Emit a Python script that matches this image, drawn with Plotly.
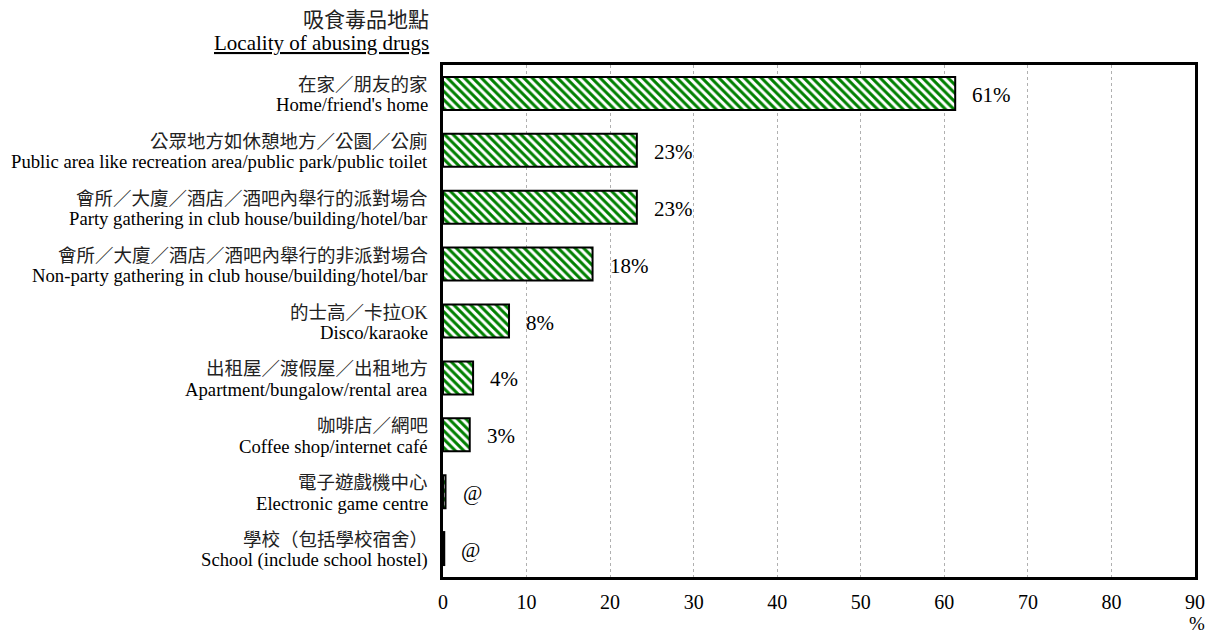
import plotly.graph_objects as go

cats_zh = ["在家／朋友的家", "公眾地方如休憩地方／公園／公廁", "會所／大廈／酒店／酒吧內舉行的派對場合",
           "會所／大廈／酒店／酒吧內舉行的非派對場合", "的士高／卡拉OK", "出租屋／渡假屋／出租地方",
           "咖啡店／網吧", "電子遊戲機中心", "學校（包括學校宿舍）"]
cats_en = ["Home/friend's home", "Public area like recreation area/public park/public toilet",
           "Party gathering in club house/building/hotel/bar",
           "Non-party gathering in club house/building/hotel/bar", "Disco/karaoke",
           "Apartment/bungalow/rental area", "Coffee shop/internet café", "Electronic game centre",
           "School (include school hostel)"]
values = [61.3, 23.2, 23.2, 17.9, 7.9, 3.6, 3.2, 0.3, 0.15]
labels = ["61%", "23%", "23%", "18%", "8%", "4%", "3%", "@", "@"]
xticks = [0, 10, 20, 30, 40, 50, 60, 70, 80, 90]

FONT = "Liberation Serif, Times New Roman, Noto Sans CJK TC, serif"
ypos = list(range(len(values)))

fig = go.Figure()
fig.add_trace(go.Bar(
    x=values, y=ypos, orientation="h", width=0.58,
    marker=dict(color="white", line=dict(color="black", width=2),
                pattern=dict(shape="\\", fgcolor="#008000", bgcolor="white", fgopacity=1,
                             size=6, solidity=0.5)),
    hoverinfo="skip",
))

for v, y, t in zip(values, ypos, labels):
    fig.add_annotation(x=v, y=y, text=t, showarrow=False, xanchor="left",
                       xshift=15, yshift=-1.5, font=dict(family=FONT, size=21, color="black"))

for y, zh, en in zip(ypos, cats_zh, cats_en):
    fig.add_annotation(xref="paper", x=0, y=y, text=zh, showarrow=False, xanchor="right",
                       yanchor="middle", xshift=-13, yshift=8.5,
                       font=dict(family=FONT, size=18.5, color="#222"))
    fig.add_annotation(xref="paper", x=0, y=y, text=en, showarrow=False, xanchor="right",
                       yanchor="middle", xshift=-13, yshift=-11.5,
                       font=dict(family=FONT, size=18.7, color="black"))

fig.add_annotation(xref="paper", yref="paper", x=0, y=1.0, xshift=-12, yshift=45,
                   text="吸食毒品地點", showarrow=False, xanchor="right", yanchor="middle",
                   font=dict(family=FONT, size=21, color="#222"))
fig.add_annotation(xref="paper", yref="paper", x=0, y=1.0, xshift=-12, yshift=22,
                   text="<u>Locality of abusing drugs</u>", showarrow=False, xanchor="right",
                   yanchor="middle", font=dict(family=FONT, size=21, color="black"))
fig.add_annotation(xref="paper", yref="paper", x=1.0, y=0, xshift=2, yshift=-46,
                   text="%", showarrow=False, xanchor="center", yanchor="middle",
                   font=dict(family=FONT, size=19, color="black"))

fig.update_layout(
    width=1207, height=633,
    margin=dict(l=443, r=12, t=65, b=56),
    paper_bgcolor="white", plot_bgcolor="white",
    showlegend=False,
    font=dict(family=FONT, color="black"),
    xaxis=dict(range=[0, 90], tickvals=xticks, ticktext=[str(t) for t in xticks],
               showgrid=True, gridcolor="#b0b0b0", griddash="dot", gridwidth=1,
               showline=True, linecolor="black", linewidth=3, mirror=True,
               zeroline=False, ticks="", tickfont=dict(family=FONT, size=20),
               ticklabelstandoff=5, automargin=False, ticklabeloverflow="allow"),
    yaxis=dict(range=[len(values) - 0.5, -0.5], tickvals=ypos, showticklabels=False,
               showgrid=False, showline=True, linecolor="black", linewidth=3, mirror=True,
               zeroline=False, ticks="", automargin=False),
)

# remove the default page margin so the 1207x633 figure fills the window exactly
fig.write_html("out.html", config={"displayModeBar": False},
               post_script="document.body.style.margin='0';document.body.style.overflow='hidden';")
